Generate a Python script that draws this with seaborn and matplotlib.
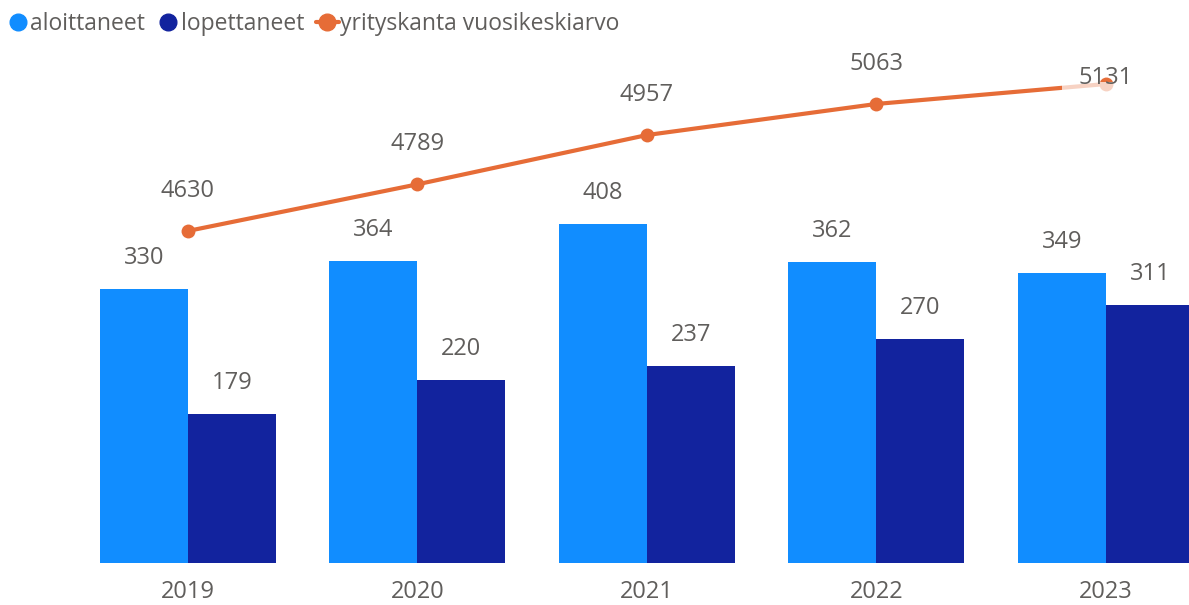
import numpy as np
import pandas as pd
import seaborn as sns
import matplotlib.pyplot as plt
from matplotlib.lines import Line2D
from matplotlib.patches import Rectangle

years = ["2019", "2020", "2021", "2022", "2023"]
aloittaneet = [330, 364, 408, 362, 349]
lopettaneet = [179, 220, 237, 270, 311]
yrityskanta = [4630, 4789, 4957, 5063, 5131]

light_blue = "#118DFF"
dark_blue = "#12239E"
orange = "#E66C37"
grey = "#605E5C"

sns.set_theme(style="white")
plt.rcParams["font.family"] = ["Open Sans", "DejaVu Sans"]

df = pd.DataFrame({
    "vuosi": years * 2,
    "arvo": aloittaneet + lopettaneet,
    "sarja": ["aloittaneet"] * len(years) + ["lopettaneet"] * len(years),
})

fig = plt.figure(figsize=(11.89, 6.05), dpi=100)
ax = fig.add_axes([0, 42 / 605, 1, 523 / 605])

sns.barplot(data=df, x="vuosi", y="arvo", hue="sarja", order=years,
            palette=[light_blue, dark_blue], width=0.767, gap=0,
            saturation=1, legend=False, linewidth=0, ax=ax)

ax.set_xlim(-0.819, 4.362)
ax.set_ylim(0, 629.4)

# bar labels
for container in ax.containers:
    for bar in container:
        h = bar.get_height()
        ax.annotate(f"{int(h)}", (bar.get_x() + bar.get_width() / 2, h),
                    xytext=(0, 31), textcoords="offset pixels",
                    ha="center", va="center", fontsize=17, color=grey)

ax2 = ax.twinx()
xpos = np.arange(len(years))
sns.lineplot(x=xpos, y=yrityskanta, ax=ax2, color=orange, linewidth=3,
             marker="o", markersize=10, markeredgewidth=0)
ax2.set_ylim(3498, 5281)
ax2.set_xlim(-0.819, 4.362)

# faded end of the line (as in the original rendering)
ax2.add_patch(Rectangle((0.893, 0.8), 0.11, 0.12, transform=ax2.transAxes,
                        facecolor="white", alpha=0.7, edgecolor="none", zorder=5))

for i, v in enumerate(yrityskanta):
    off = 40 if i < len(yrityskanta) - 1 else 6
    ax2.annotate(f"{v}", (xpos[i], v), xytext=(0, off), textcoords="offset pixels",
                 ha="center", va="center", fontsize=17, color=grey, zorder=6)

for a in (ax, ax2):
    a.set_xlabel("")
    a.set_ylabel("")
    a.set_yticks([])
    for s in a.spines.values():
        s.set_visible(False)

ax.set_xticks(range(len(years)))
ax.set_xticklabels(years, fontsize=17, color=grey)
ax.tick_params(axis="x", length=0, pad=12)

handles = [
    Line2D([], [], linestyle="none", marker="o", markersize=12, color=light_blue),
    Line2D([], [], linestyle="none", marker="o", markersize=12, color=dark_blue),
    Line2D([], [], color=orange, linewidth=3, marker="o", markersize=12),
]
fig.legend(handles, ["aloittaneet", "lopettaneet", "yrityskanta vuosikeskiarvo"],
           loc="upper left", bbox_to_anchor=(-0.012, 1.015), ncol=3, frameon=False,
           fontsize=16.5, labelcolor=grey, handlelength=1.0, handletextpad=0.05,
           columnspacing=0.5)

fig.savefig("out.png", dpi=100)
